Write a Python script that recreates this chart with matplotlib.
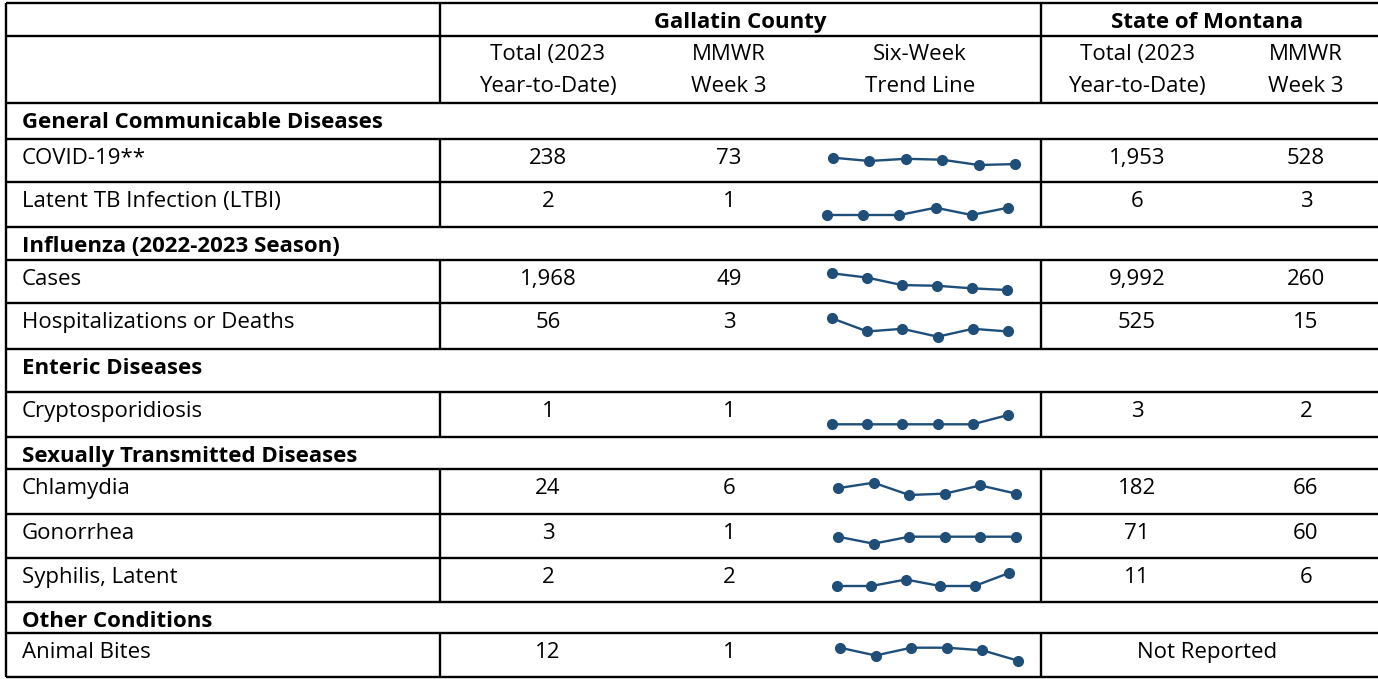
import numpy as np
import matplotlib
matplotlib.use('Agg')
from matplotlib import pyplot as plt

plt.rcParams['font.family'] = ['Open Sans', 'DejaVu Sans']

# table content
header_groups = ['Gallatin County', 'State of Montana']
sub_headers = ['Total (2023\nYear-to-Date)', 'MMWR\nWeek 3', 'Six-Week\nTrend Line',
               'Total (2023\nYear-to-Date)', 'MMWR\nWeek 3']

row_labels = ['General Communicable Diseases', 'COVID-19**', 'Latent TB Infection (LTBI)',
              'Influenza (2022-2023 Season)', 'Cases', 'Hospitalizations or Deaths',
              'Enteric Diseases', 'Cryptosporidiosis',
              'Sexually Transmitted Diseases', 'Chlamydia', 'Gonorrhea', 'Syphilis, Latent',
              'Other Conditions', 'Animal Bites']
is_section = [True, False, False, True, False, False, True, False, True, False, False, False, True, False]

county_total = [None, '238', '2', None, '1,968', '56', None, '1', None, '24', '3', '2', None, '12']
county_week = [None, '73', '1', None, '49', '3', None, '1', None, '6', '1', '2', None, '1']
state_total = [None, '1,953', '6', None, '9,992', '525', None, '3', None, '182', '71', '11', None, None]
state_week = [None, '528', '3', None, '260', '15', None, '2', None, '66', '60', '6', None, None]

# six-week trend values (weekly counts)
trend = {
    'COVID-19**': [108, 90, 102, 97, 68, 73],
    'Latent TB Infection (LTBI)': [0, 0, 0, 1, 0, 1],
    'Cases': [100, 87, 64, 62, 54, 49],
    'Hospitalizations or Deaths': [8, 3, 4, 1, 4, 3],
    'Cryptosporidiosis': [0, 0, 0, 0, 0, 1],
    'Chlamydia': [10, 14, 5, 6, 12, 6],
    'Gonorrhea': [1, 0, 1, 1, 1, 1],
    'Syphilis, Latent': [0, 0, 1, 0, 0, 2],
    'Animal Bites': [6, 3, 6, 6, 5, 1],
}

# layout in pixels
W, H = 1378, 679
row_edges = [103, 139, 182, 227, 260, 303, 349, 392, 437, 469, 514, 558, 602, 633, 677]
col_lines = [6, 440, 1041]
col_x = [548, 729, 920, 1137, 1306]
# sparkline box per row: x first, x last, y of max, y of min
spark_box = {
    'COVID-19**': (833, 1015, 157.7, 165.0),
    'Latent TB Infection (LTBI)': (827, 1008, 207.7, 215.0),
    'Cases': (832, 1007, 273.3, 290.0),
    'Hospitalizations or Deaths': (832, 1008, 318.3, 336.7),
    'Cryptosporidiosis': (832, 1008, 415.0, 424.3),
    'Chlamydia': (838, 1016, 482.7, 495.0),
    'Gonorrhea': (838, 1016, 536.7, 543.7),
    'Syphilis, Latent': (837, 1009, 573.0, 586.0),
    'Animal Bites': (840, 1018, 647.7, 660.7),
}
navy = '#1F4E79'
lw = 1.7
fs = 16

fig = plt.figure(figsize=(W / 100, H / 100), dpi=100)
ax = fig.add_axes([0, 0, 1, 1])
ax.set_xlim(0, W)
ax.set_ylim(H, 0)
ax.axis('off')

# header rows
for y in [3, 36, 103]:
    ax.plot([col_lines[0], W], [y, y], color='black', lw=lw, solid_capstyle='butt')
for x in col_lines:
    ax.plot([x, x], [3, 103], color='black', lw=lw, solid_capstyle='butt')
ax.text((440 + 1041) / 2, 28, header_groups[0], ha='center', va='baseline',
        fontsize=fs, fontweight='bold')
ax.text((1041 + W - 4) / 2, 28, header_groups[1], ha='center', va='baseline',
        fontsize=fs, fontweight='bold')
for x, s in zip(col_x, sub_headers):
    top, bot = s.split('\n')
    ax.text(x, 60, top, ha='center', va='baseline', fontsize=fs)
    ax.text(x, 92, bot, ha='center', va='baseline', fontsize=fs)

# body rows
for i, lab in enumerate(row_labels):
    y0, y1 = row_edges[i], row_edges[i + 1]
    ax.plot([col_lines[0], W], [y1, y1], color='black', lw=lw, solid_capstyle='butt')
    ax.plot([6, 6], [y0, y1], color='black', lw=lw, solid_capstyle='butt')
    base = y0 + 25
    if is_section[i]:
        ax.text(22, base, lab, ha='left', va='baseline', fontsize=fs, fontweight='bold')
        continue
    for x in col_lines[1:]:
        ax.plot([x, x], [y0, y1], color='black', lw=lw, solid_capstyle='butt')
    ax.text(22, base, lab, ha='left', va='baseline', fontsize=fs)
    vals = [county_total[i], county_week[i], None, state_total[i], state_week[i]]
    for x, v in zip(col_x, vals):
        if v is not None:
            ax.text(x, base, v, ha='center', va='baseline', fontsize=fs)
    if state_total[i] is None:
        ax.text((1041 + W - 4) / 2, base, 'Not Reported', ha='center', va='baseline', fontsize=fs)

    # sparkline
    xa, xb, ytop, ybot = spark_box[lab]
    data = trend[lab]
    sax = fig.add_axes([xa / W, 1 - ybot / H, (xb - xa) / W, (ybot - ytop) / H])
    sax.plot(range(6), data, color=navy, lw=1.7, marker='o', ms=7, clip_on=False)
    sax.set_xlim(0, 5)
    sax.set_ylim(min(data), max(data))
    sax.axis('off')

fig.savefig('out.png', dpi=100)
